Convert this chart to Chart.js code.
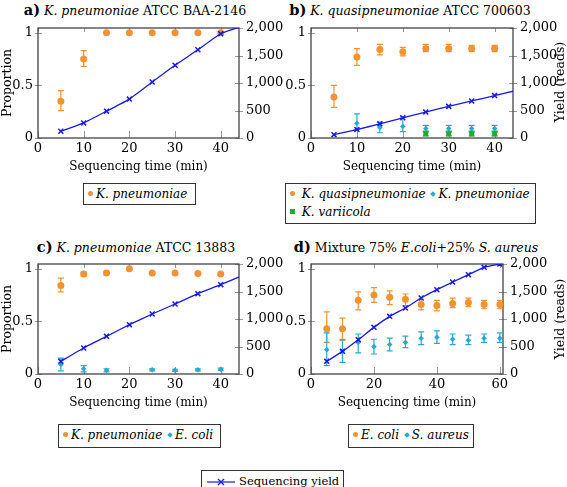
<!DOCTYPE html>
<html>
<head>
<meta charset="utf-8">
<script src="https://cdn.jsdelivr.net/npm/chart.js@4.4.1/dist/chart.umd.min.js"></script>
<style>
  body { margin: 0; width: 567px; height: 487px; background: #fff; position: relative; overflow: hidden;
         font-family: "DejaVu Serif", serif; color: #000; }
  canvas { position: absolute; }
  .title { position: absolute; font-size: 12.5px; line-height: 18px; white-space: nowrap; transform: translateX(-50%); }
  .title b { font-size: 14.5px; }
  .legend { position: absolute; box-sizing: border-box; border: 1px solid #333; font-size: 12px; font-style: italic;
            line-height: 18px; padding: 1px 4px; white-space: nowrap; }
  .mk { display: inline-block; margin-right: 3px; vertical-align: middle; position: relative; top: -1px; }
  .dot { width: 5px; height: 5px; border-radius: 50%; }
  .dia { width: 4px; height: 4px; transform: rotate(45deg); margin-left: 2px; }
  .sq { width: 5px; height: 5px; }
  .ytitle { position: absolute; font-size: 12.5px; white-space: nowrap; transform: translate(-50%, -50%) rotate(-90deg); }
</style>
</head>
<body>
<div class="title" style="left:135px;top:1px"><b>a)</b> <i>K. pneumoniae</i> ATCC BAA-2146</div>
<div class="title" style="left:410px;top:1px"><b>b)</b> <i>K. quasipneumoniae</i> ATCC 700603</div>
<div class="title" style="left:136px;top:238px"><b>c)</b> <i>K. pneumoniae</i> ATCC 13883</div>
<div class="title" style="left:416px;top:238px"><b>d)</b> Mixture 75% <i>E.coli</i>+25% <i>S. aureus</i></div>

<canvas id="chartA" width="283" height="160" style="left:0;top:20px"></canvas>
<canvas id="chartB" width="284" height="160" style="left:283px;top:20px"></canvas>
<canvas id="chartC" width="283" height="160" style="left:0;top:256px"></canvas>
<canvas id="chartD" width="284" height="160" style="left:283px;top:256px"></canvas>

<div class="ytitle" style="left:559px;top:82px">Yield (reads)</div>
<div class="ytitle" style="left:559px;top:319px">Yield (reads)</div>

<div class="legend" style="left:83px;top:183px;width:113px;height:22px">
  <span class="mk dot" style="background:#f39232"></span>K. pneumoniae
</div>
<div class="legend" style="left:285px;top:183px;width:251px;height:41px">
  <span class="mk dot" style="background:#f39232"></span> K. quasipneumoniae <span class="mk dia" style="background:#29a9d2"></span>K. pneumoniae<br>
  <span class="mk sq" style="background:#22aa33"></span> K. variicola
</div>
<div class="legend" style="left:58px;top:424px;width:163px;height:24px">
  <span class="mk dot" style="background:#f39232"></span>K. pneumoniae <span class="mk dia" style="background:#29a9d2"></span>E. coli
</div>
<div class="legend" style="left:348px;top:424px;width:126px;height:24px">
  <span class="mk dot" style="background:#f39232"></span>E. coli <span class="mk dia" style="background:#29a9d2"></span>S. aureus
</div>
<div class="legend" style="left:201px;top:470px;width:143px;height:24px;font-style:normal;font-size:11.5px">
  <svg width="30" height="10" style="vertical-align:middle;margin-right:3px">
    <line x1="1" y1="5" x2="29" y2="5" stroke="#1a1ae6" stroke-width="1.2"/>
    <path d="M12 2 L18 8 M18 2 L12 8" stroke="#1a1ae6" stroke-width="1.4"/>
  </svg>Sequencing yield
</div>

<script>
// tick labels
const xTicks40 = [0, 10, 20, 30, 40];
const xTicks60 = [0, 20, 40, 60];
const propTicks = [0, 0.5, 1];
const yieldTicks = [0, 500, 1000, 1500, 2000];

// a) K. pneumoniae ATCC BAA-2146
const timesA = [5, 10, 15, 20, 25, 30, 35, 40];
const kpnA = [0.35, 0.75, 1, 1, 1, 1, 1, 1];
const kpnALow = [0.26, 0.68, 1, 1, 1, 1, 1, 1];
const kpnAHigh = [0.45, 0.83, 1, 1, 1, 1, 1, 1];
const yieldTimesA = [5, 10, 15, 20, 25, 30, 35, 40, 45];
const yieldA = [122, 274, 488, 707, 1018, 1323, 1604, 1896, 2040];

// b) K. quasipneumoniae ATCC 700603
const timesB = [5, 10, 15, 20, 25, 30, 35, 40];
const kqB = [0.39, 0.77, 0.84, 0.82, 0.85, 0.85, 0.85, 0.85];
const kqBLow = [0.29, 0.69, 0.79, 0.78, 0.82, 0.82, 0.82, 0.82];
const kqBHigh = [0.50, 0.85, 0.89, 0.86, 0.89, 0.89, 0.88, 0.88];
const kpnB = [null, 0.14, 0.10, 0.11, 0.09, 0.09, 0.09, 0.09];
const kpnBLow = [null, 0.08, 0.05, 0.06, 0.055, 0.055, 0.055, 0.055];
const kpnBHigh = [null, 0.23, 0.15, 0.20, 0.12, 0.12, 0.12, 0.12];
const kvB = [null, null, null, null, 0.04, 0.04, 0.04, 0.04];
const kvBLow = [null, null, null, null, 0.02, 0.02, 0.02, 0.02];
const kvBHigh = [null, null, null, null, 0.065, 0.065, 0.065, 0.065];
const yieldTimesB = [5, 10, 15, 20, 25, 30, 35, 40, 45];
const yieldB = [61, 153, 257, 367, 471, 575, 673, 771, 870];

// c) K. pneumoniae ATCC 13883
const timesC = [5, 10, 15, 20, 25, 30, 35, 40];
const kpnC = [0.84, 0.95, 0.96, 1.0, 0.96, 0.96, 0.955, 0.95];
const kpnCLow = [0.78, 0.93, 0.945, 1.0, 0.95, 0.95, 0.945, 0.94];
const kpnCHigh = [0.91, 0.97, 0.975, 1.0, 0.97, 0.97, 0.965, 0.96];
const ecoC = [0.09, 0.05, 0.035, null, 0.04, 0.035, 0.04, 0.045];
const ecoCLow = [0.03, 0.02, 0.02, null, 0.03, 0.025, 0.03, 0.035];
const ecoCHigh = [0.15, 0.08, 0.05, null, 0.05, 0.045, 0.05, 0.055];
const yieldTimesC = [5, 10, 15, 20, 25, 30, 35, 40, 45];
const yieldC = [230, 473, 685, 897, 1091, 1273, 1461, 1624, 1800];

// d) Mixture 75% E.coli + 25% S. aureus
const timesD = [5, 10, 15, 20, 25, 30, 35, 40, 45, 50, 55, 60];
const ecoD = [0.43, 0.43, 0.70, 0.75, 0.73, 0.71, 0.66, 0.65, 0.67, 0.68, 0.66, 0.66];
const ecoDLow = [0.30, 0.32, 0.61, 0.68, 0.66, 0.65, 0.61, 0.60, 0.63, 0.64, 0.62, 0.62];
const ecoDHigh = [0.59, 0.53, 0.78, 0.82, 0.79, 0.76, 0.71, 0.70, 0.72, 0.72, 0.70, 0.70];
const sauD = [0.23, 0.22, 0.30, 0.26, 0.28, 0.30, 0.34, 0.35, 0.33, 0.32, 0.34, 0.34];
const sauDLow = [0.08, 0.11, 0.20, 0.19, 0.22, 0.25, 0.28, 0.29, 0.28, 0.28, 0.30, 0.30];
const sauDHigh = [0.39, 0.33, 0.38, 0.33, 0.34, 0.36, 0.40, 0.41, 0.38, 0.37, 0.38, 0.39];
const yieldD = [230, 412, 624, 848, 1048, 1200, 1382, 1533, 1673, 1806, 1939, 2000];

const ORANGE = "#f39232";
const CYAN = "#29a9d2";
const GREEN = "#22aa33";
const BLUE = "#1a1ae6";
const FONT = "'DejaVu Serif', serif";

// vertical error bars with caps, drawn under the markers
const errorBars = {
  id: "errorBars",
  beforeDatasetsDraw(chart) {
    const { ctx, scales } = chart;
    chart.data.datasets.forEach(ds => {
      if (!ds.errColor) return;
      const ys = scales[ds.yAxisID];
      ctx.save();
      ctx.strokeStyle = ds.errColor;
      ctx.lineWidth = 1.2;
      ds.data.forEach(p => {
        if (p.hi - p.lo < 0.004) return;
        const x = scales.x.getPixelForValue(p.x);
        const yLo = ys.getPixelForValue(p.lo);
        const yHi = ys.getPixelForValue(p.hi);
        ctx.beginPath();
        ctx.moveTo(x, yLo); ctx.lineTo(x, yHi);
        ctx.moveTo(x - 3, yLo); ctx.lineTo(x + 3, yLo);
        ctx.moveTo(x - 3, yHi); ctx.lineTo(x + 3, yHi);
        ctx.stroke();
      });
      ctx.restore();
    });
  }
};

// pgfplots-like frame with inward ticks
const frame = {
  id: "frame",
  beforeDatasetsDraw(chart) {
    const { ctx, chartArea: a, scales } = chart;
    ctx.save();
    ctx.strokeStyle = "#999";
    ctx.lineWidth = 1;
    ctx.beginPath();
    scales.x.ticks.forEach(t => {
      const px = Math.round(scales.x.getPixelForValue(t.value)) + 0.5;
      ctx.moveTo(px, a.bottom); ctx.lineTo(px, a.bottom - 7);
      ctx.moveTo(px, a.top); ctx.lineTo(px, a.top + 4);
    });
    scales.y.ticks.forEach(t => {
      const py = Math.round(scales.y.getPixelForValue(t.value)) + 0.5;
      ctx.moveTo(a.left - 3, py); ctx.lineTo(a.left + 4, py);
    });
    scales.y1.ticks.forEach(t => {
      const py = Math.round(scales.y1.getPixelForValue(t.value)) + 0.5;
      ctx.moveTo(a.right - 4, py); ctx.lineTo(a.right + 4, py);
    });
    ctx.stroke();
    ctx.strokeStyle = "#444";
    ctx.lineWidth = 1.3;
    ctx.strokeRect(a.left, a.top, a.width, a.height);
    ctx.restore();
  }
};

function points(xs, ys, lo, hi) {
  const out = [];
  xs.forEach((x, i) => {
    if (ys[i] === null) return;
    out.push({ x, y: ys[i], lo: lo ? lo[i] : ys[i], hi: hi ? hi[i] : ys[i] });
  });
  return out;
}

function fixVertical(width) {
  return s => { s.width = width; s.paddingTop = 0; s.paddingBottom = 0; };
}

function makePanel(id, cfg) {
  const ctx = document.getElementById(id).getContext("2d");
  const datasets = cfg.series.map(s => ({
    type: "scatter",
    label: s.label,
    data: points(cfg.times, s.values, s.low, s.high),
    yAxisID: "y",
    errColor: s.color,
    backgroundColor: s.color,
    borderColor: s.color,
    borderWidth: 0,
    pointStyle: s.style,
    pointRadius: s.radius,
    order: 1
  }));
  datasets.push({
    type: "line",
    label: "Sequencing yield",
    data: points(cfg.yieldTimes, cfg.yieldValues),
    yAxisID: "y1",
    borderColor: BLUE,
    backgroundColor: BLUE,
    borderWidth: 1.3,
    pointStyle: "crossRot",
    pointRadius: 3.5,
    pointBorderWidth: 1.5,
    tension: 0.15,
    fill: false,
    order: 0
  });

  new Chart(ctx, {
    data: { datasets },
    plugins: [frame, errorBars],
    options: {
      responsive: false,
      animation: false,
      layout: { padding: { top: 8 } },
      plugins: { legend: { display: false }, tooltip: { enabled: false } },
      scales: {
        x: {
          type: "linear",
          min: 0,
          max: cfg.xMax,
          afterBuildTicks: s => { s.ticks = cfg.xTicks.map(v => ({ value: v })); },
          afterFit: s => { s.height = 42; s.paddingLeft = 0; s.paddingRight = 0; },
          grid: { display: false, drawTicks: false },
          border: { display: false },
          ticks: { color: "#000", font: { family: FONT, size: 13 }, padding: 3, maxRotation: 0 },
          title: { display: true, text: "Sequencing time (min)", color: "#000",
                   font: { family: FONT, size: 12 }, padding: { top: 0, bottom: 6 } }
        },
        y: {
          type: "linear",
          position: "left",
          min: 0,
          max: 1.045,
          afterBuildTicks: s => { s.ticks = propTicks.map(v => ({ value: v })); },
          afterFit: fixVertical(cfg.leftWidth),
          grid: { display: false, drawTicks: false },
          border: { display: false },
          ticks: { color: "#000", font: { family: FONT, size: 13 }, padding: 5,
                   callback: v => String(v) },
          title: { display: cfg.leftTitle, text: "Proportion", color: "#000",
                   font: { family: FONT, size: 12.5 }, padding: { top: 0, bottom: 0 } }
        },
        y1: {
          type: "linear",
          position: "right",
          min: 0,
          max: 2000,
          afterBuildTicks: s => { s.ticks = yieldTicks.map(v => ({ value: v })); },
          afterFit: fixVertical(cfg.rightWidth),
          grid: { display: false, drawTicks: false },
          border: { display: false },
          ticks: { color: "#000", font: { family: FONT, size: 13 }, padding: 7,
                   callback: v => v.toLocaleString("en-US") }
        }
      }
    }
  });
}

makePanel("chartA", {
  times: timesA, xMax: 44, xTicks: xTicks40, leftWidth: 38, rightWidth: 44, leftTitle: true,
  yieldTimes: yieldTimesA, yieldValues: yieldA,
  series: [
    { label: "K. pneumoniae", values: kpnA, low: kpnALow, high: kpnAHigh, color: ORANGE, style: "circle", radius: 3.5 }
  ]
});

makePanel("chartB", {
  times: timesB, xMax: 44, xTicks: xTicks40, leftWidth: 28, rightWidth: 54, leftTitle: false,
  yieldTimes: yieldTimesB, yieldValues: yieldB,
  series: [
    { label: "K. quasipneumoniae", values: kqB, low: kqBLow, high: kqBHigh, color: ORANGE, style: "circle", radius: 3.5 },
    { label: "K. pneumoniae", values: kpnB, low: kpnBLow, high: kpnBHigh, color: CYAN, style: "rectRot", radius: 2.8 },
    { label: "K. variicola", values: kvB, low: kvBLow, high: kvBHigh, color: GREEN, style: "rect", radius: 3.5 }
  ]
});

makePanel("chartC", {
  times: timesC, xMax: 44, xTicks: xTicks40, leftWidth: 38, rightWidth: 44, leftTitle: true,
  yieldTimes: yieldTimesC, yieldValues: yieldC,
  series: [
    { label: "K. pneumoniae", values: kpnC, low: kpnCLow, high: kpnCHigh, color: ORANGE, style: "circle", radius: 3.5 },
    { label: "E. coli", values: ecoC, low: ecoCLow, high: ecoCHigh, color: CYAN, style: "rectRot", radius: 2.8 }
  ]
});

makePanel("chartD", {
  times: timesD, xMax: 61, xTicks: xTicks60, leftWidth: 28, rightWidth: 64, leftTitle: false,
  yieldTimes: timesD, yieldValues: yieldD,
  series: [
    { label: "E. coli", values: ecoD, low: ecoDLow, high: ecoDHigh, color: ORANGE, style: "circle", radius: 3.5 },
    { label: "S. aureus", values: sauD, low: sauDLow, high: sauDHigh, color: CYAN, style: "rectRot", radius: 2.8 }
  ]
});
</script>
</body>
</html>
